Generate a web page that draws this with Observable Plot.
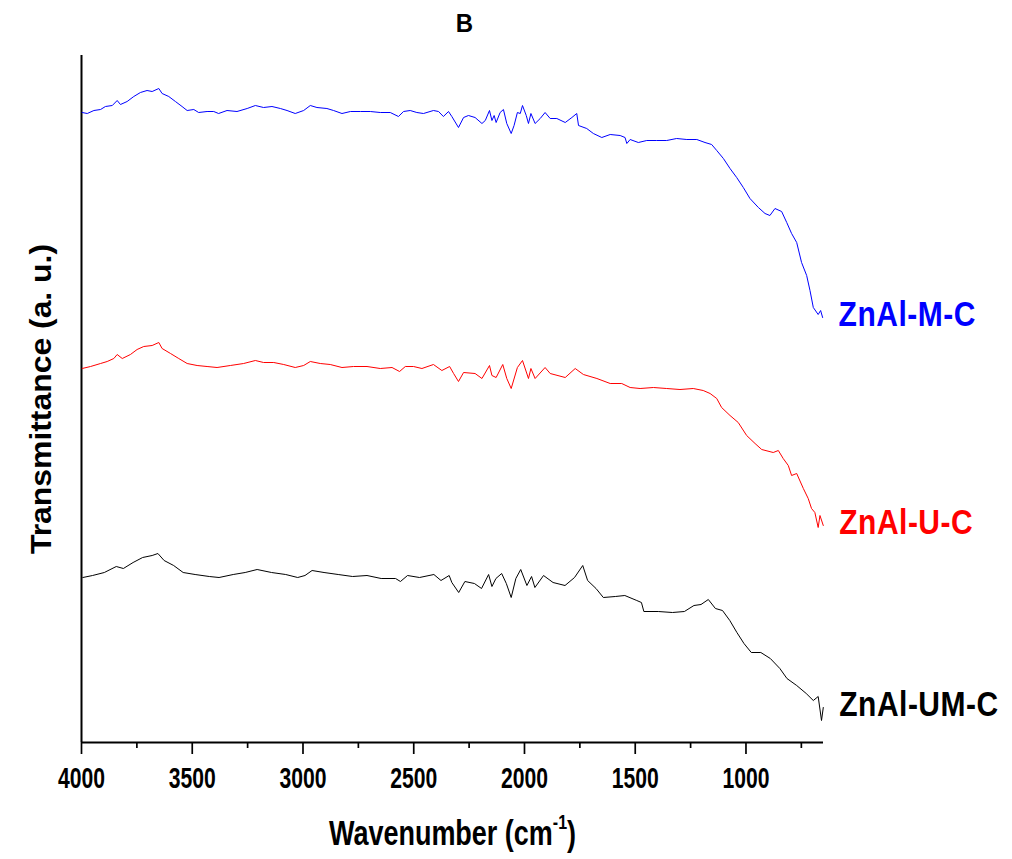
<!DOCTYPE html>
<html><head><meta charset="utf-8">
<script src="https://cdn.jsdelivr.net/npm/d3@7"></script>
<script src="https://cdn.jsdelivr.net/npm/@observablehq/plot@0.6"></script>
<style>
body{margin:0;background:#fff;}
#chart svg{display:block;}
</style></head><body><div id="chart"></div>
<script>
const seriesNames = ["ZnAl-M-C", "ZnAl-U-C", "ZnAl-UM-C"];
const seriesColors = ["#0000ff", "#ff0000", "#000000"];

const wnM = [3997,3974,3944,3914,3892,3861,3839,3824,3794,3764,3734,3704,3681,3651,3636,3606,3576,3546,3523,3493,3471,3433,3403,3381,3343,3298,3252,3215,3178,3140,3102,3072,3035,2997,2967,2937,2892,2862,2824,2786,2741,2696,2651,2606,2569,2546,2516,2486,2456,2411,2388,2366,2343,2328,2298,2275,2253,2223,2192,2177,2158,2147,2137,2128,2110,2095,2080,2060,2047,2032,2019,2009,1992,1982,1971,1952,1929,1907,1884,1854,1816,1786,1764,1756,1719,1689,1651,1613,1568,1546,1538,1523,1486,1448,1403,1358,1313,1267,1222,1185,1155,1132,1102,1072,1042,1012,982,944,914,892,869,839,816,794,771,749,726,711,696,674,663,654];
const tM = [630,629,632,633,636,637,642,638,641,646,650,652,651,654,649,646,641,636,632,633,630,631,631,629,632,631,634,637,635,636,634,632,629,632,637,635,634,632,629,631,631,631,630,630,626,631,632,630,629,632,631,626,631,626,615,625,627,625,619,622,632,622,627,620,630,633,619,609,617,630,629,637,627,619,629,619,624,630,624,624,620,625,629,617,614,609,605,608,607,605,599,603,600,602,602,602,604,603,603,600,598,592,584,574,565,555,544,535,529,527,534,531,520,509,500,480,467,452,435,428,432,425];

const wnU = [3997,3959,3914,3884,3854,3839,3816,3779,3749,3719,3681,3651,3636,3598,3561,3523,3478,3433,3388,3328,3268,3215,3178,3132,3087,3035,2997,2967,2922,2877,2824,2772,2711,2651,2598,2564,2538,2501,2463,2411,2373,2338,2320,2298,2275,2223,2192,2158,2147,2128,2098,2080,2060,2032,2009,1982,1971,1952,1907,1884,1816,1771,1734,1673,1613,1561,1523,1478,1418,1358,1298,1238,1193,1162,1132,1110,1072,1035,997,959,929,877,854,832,809,794,771,741,719,704,689,674,666,651];
const tU = [374,376,379,381,384,388,384,388,393,396,397,400,394,389,384,379,377,376,375,377,379,382,380,380,378,375,377,381,379,378,375,376,376,374,375,371,376,376,374,378,372,376,369,361,370,369,364,377,367,365,378,364,354,375,382,364,374,364,375,369,365,374,368,364,359,359,355,354,355,354,353,354,352,349,344,335,327,320,307,299,293,290,292,284,277,267,269,254,244,234,230,215,227,217];

const wnUM = [3994,3950,3897,3843,3811,3767,3724,3681,3655,3627,3584,3541,3487,3423,3379,3315,3261,3207,3142,3078,3024,2991,2959,2905,2841,2776,2711,2647,2582,2560,2528,2474,2409,2377,2340,2328,2297,2269,2226,2194,2162,2147,2129,2103,2082,2060,2039,2017,1989,1968,1953,1914,1871,1817,1774,1737,1715,1677,1644,1590,1547,1493,1472,1461,1396,1332,1278,1235,1203,1170,1138,1106,1073,1041,1009,976,933,890,847,815,771,728,696,674,659,651];
const tUM = [165,167,170,176,174,180,185,187,189,182,177,170,168,166,165,168,170,173,170,168,165,167,172,170,168,166,167,164,164,161,167,165,168,162,167,160,150,161,159,154,168,156,164,169,159,145,164,173,157,166,155,167,160,157,165,177,162,154,145,146,147,142,140,131,131,130,131,137,138,143,134,132,122,110,99,90,90,84,74,64,57,49,42,46,22,35];

const majorTicks = [4000, 3500, 3000, 2500, 2000, 1500, 1000];
const minorTicks = [3750, 3250, 2750, 2250, 1750, 1250, 750];
const titleText = "B";
const xLabel = "Wavenumber (cm-1)";
const yLabel = "Transmittance (a. u.)";

const mk = (name, wn, t) => wn.map((w, i) => ({series: name, wn: w, t: t[i]}));
const data = [
  ...mk(seriesNames[0], wnM, tM),
  ...mk(seriesNames[1], wnU, tU),
  ...mk(seriesNames[2], wnUM, tUM)
];

const FONT = "'Liberation Sans',Arial,sans-serif";

const chart = Plot.plot({
  width: 1012,
  height: 859,
  marginLeft: 81,
  marginTop: 55,
  marginBottom: 117,
  marginRight: 189,
  style: {fontFamily: FONT, background: "#fff", color: "#000"},
  x: {domain: [4000, 650], axis: null},
  y: {domain: [0, 687], axis: null},
  color: {domain: seriesNames, range: seriesColors},
  marks: [
    Plot.axisX({ticks: minorTicks, tickSize: 6, text: null, label: null, strokeWidth: 1.7, anchor: "bottom"}),
    Plot.axisX({ticks: majorTicks, tickSize: 12, tickPadding: 12, strokeWidth: 1.7, anchor: "bottom",
      fontSize: 23, fontWeight: "bold", label: null, tickFormat: d => String(d)}),
    Plot.ruleY([0], {strokeWidth: 2}),
    Plot.ruleX([4000], {strokeWidth: 2}),
    Plot.line(data, {x: "wn", y: "t", z: "series", stroke: "series", strokeWidth: 1}),
    Plot.text(data, Plot.selectLast({x: "wn", y: "t", z: "series", text: "series", fill: "series",
      textAnchor: "start", dx: 16, dy: -3, fontSize: 30, fontWeight: "bold"})),
    Plot.text([titleText], {frameAnchor: "top", dx: 12, dy: -42, fontSize: 24, fontWeight: "bold"}),
    Plot.text([xLabel], {frameAnchor: "bottom", textAnchor: "middle", dy: 102, fontSize: 27, fontWeight: "bold"}),
    Plot.text([yLabel], {frameAnchor: "left", textAnchor: "middle", dx: -40, rotate: -90, fontSize: 29, fontWeight: "bold"})
  ]
});

function stretch(el, sx, sy) {
  const tr = el.getAttribute("transform") || "";
  el.setAttribute("transform", `${tr} scale(${sx},${sy})`);
}

d3.select(chart).selectAll("text").each(function() {
  const el = this;
  const s = el.textContent;
  if (s === xLabel) {
    const t = d3.select(el);
    t.text(null);
    t.append("tspan").text("Wavenumber (cm");
    t.append("tspan").attr("font-size", "16px").attr("dy", "-0.75em").text("-1");
    t.append("tspan").attr("dy", "0.48em").text(")");
    stretch(el, 1, 1.3);
  } else if (s === yLabel) {
    stretch(el, 1.1, 1);
  } else if (seriesNames.includes(s)) {
    el.setAttribute("letter-spacing", "0.5");
    stretch(el, 1, 1.17);
  } else if (s === titleText) {
    stretch(el, 1, 1.1);
  } else if (/^\d+$/.test(s)) {
    stretch(el, 0.92, 1.32);
  }
});

document.getElementById("chart").appendChild(chart);
</script>
</body></html>
